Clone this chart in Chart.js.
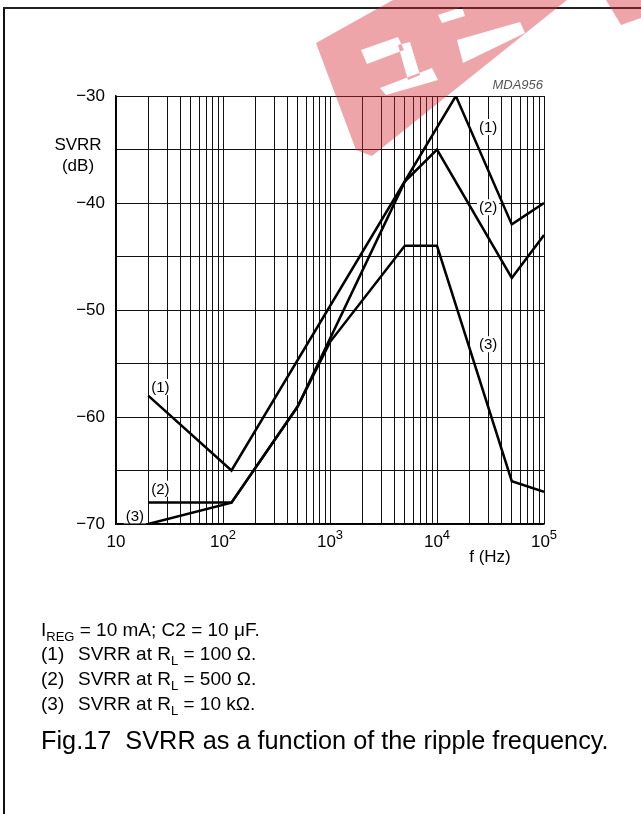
<!DOCTYPE html>
<html>
<head>
<meta charset="utf-8">
<title>Fig.17 SVRR as a function of the ripple frequency</title>
<script src="https://cdn.jsdelivr.net/npm/chart.js@4.4.0/dist/chart.umd.min.js"></script>
<style>
  body { margin: 0; background: #fff; font-family: "Liberation Sans", Arial, sans-serif; }
  #page { position: relative; width: 641px; height: 814px; overflow: hidden; background: #fff; }
  #frame-left { position: absolute; left: 3px; top: 7px; width: 2px; height: 807px; background: #111; }
  #frame-top { position: absolute; left: 3px; top: 7px; width: 638px; height: 2px; background: #222; }
  #chart { position: absolute; left: 0; top: 0; }
  .note { position: absolute; left: 41px; font-size: 19px; line-height: 19px; color: #000; white-space: nowrap; }
  .note sub { font-size: 13px; line-height: 0; vertical-align: -5px; }
  .note .num { display: inline-block; width: 37px; }
  .caption { position: absolute; left: 41px; font-size: 25.3px; line-height: 25px; color: #000; white-space: nowrap; }
</style>
</head>
<body>
<div id="page">
  <div id="frame-left"></div>
  <div id="frame-top"></div>
  <canvas id="chart" width="641" height="814"></canvas>
  <div class="note" style="top:620px">I<sub>REG</sub> = 10 mA; C2 = 10 &mu;F.</div>
  <div class="note" style="top:644px"><span class="num">(1)</span>SVRR at R<sub>L</sub> = 100 &Omega;.</div>
  <div class="note" style="top:669px"><span class="num">(2)</span>SVRR at R<sub>L</sub> = 500 &Omega;.</div>
  <div class="note" style="top:694px"><span class="num">(3)</span>SVRR at R<sub>L</sub> = 10 k&Omega;.</div>
  <div class="caption" style="top:728px">Fig.17&nbsp;&nbsp;SVRR as a function of the ripple frequency.</div>
</div>
<script>
var FONT = '"Liberation Sans", Arial, sans-serif';

// curve (1) RL = 100 ohm
var freq1 = [20, 120, 15000, 50000, 100000];
var svrr1 = [-58, -65, -30, -42, -40];
// curve (2) RL = 500 ohm
var freq2 = [20, 120, 500, 5000, 10000, 50000, 100000];
var svrr2 = [-68, -68, -59, -38, -35, -47, -43];
// curve (3) RL = 10 kohm
var freq3 = [20, 120, 500, 1000, 5000, 10000, 50000, 100000];
var svrr3 = [-70, -68, -59, -53, -44, -44, -66, -67];

// axis labels
var xDecades = [10, 100, 1000, 10000, 100000];
var xExponents = ['', '2', '3', '4', '5'];
var yMin = -70, yMax = -30, yStep = 5;

// curve tags, in data units (f, dB)
var tagText = ['(1)', '(2)', '(3)', '(1)', '(2)', '(3)'];
var tagFreq = [26, 26, 15, 30000, 30000, 30000];
var tagDb = [-57.2, -66.7, -69.2, -32.9, -40.4, -53.2];

function toPoints(fs, vs) {
	return fs.map(function(f, i) { return {x: f, y: vs[i]}; });
}

// all log grid positions 1..9 x 10^n
function logGrid() {
	var out = [];
	for (var d = 0; d < xDecades.length - 1; d++) {
		for (var m = 1; m < 10; m++) out.push(m * xDecades[d]);
	}
	out.push(xDecades[xDecades.length - 1]);
	return out;
}

function poly(ctx, pts) {
	ctx.moveTo(pts[0], pts[1]);
	for (var i = 2; i < pts.length; i += 2) ctx.lineTo(pts[i], pts[i + 1]);
	ctx.closePath();
}

var decorations = {
	id: 'decorations',
	afterDatasetsDraw: function(chart) {
		var ctx = chart.ctx, xs = chart.scales.x, ys = chart.scales.y, area = chart.chartArea;
		ctx.save();
		ctx.fillStyle = '#000';
		ctx.textBaseline = 'alphabetic';

		// decade labels with superscripts
		xDecades.forEach(function(v, i) {
			var px = xs.getPixelForValue(v);
			ctx.font = '17px ' + FONT;
			var bw = ctx.measureText('10').width;
			ctx.font = '13px ' + FONT;
			var sw = xExponents[i] ? ctx.measureText(xExponents[i]).width : 0;
			var left = px - (bw + sw) / 2;
			ctx.textAlign = 'left';
			ctx.font = '17px ' + FONT;
			ctx.fillText('10', left, area.bottom + 23);
			if (xExponents[i]) {
				ctx.font = '13px ' + FONT;
				ctx.fillText(xExponents[i], left + bw, area.bottom + 15);
			}
		});

		// axis titles
		ctx.font = '17px ' + FONT;
		ctx.textAlign = 'center';
		ctx.fillText('f (Hz)', area.right - 54, area.bottom + 38);
		ctx.fillText('SVRR', area.left - 38, area.top + 54);
		ctx.fillText('(dB)', area.left - 38, area.top + 75);

		// drawing code
		ctx.font = 'italic 13px ' + FONT;
		ctx.textAlign = 'right';
		ctx.fillStyle = '#555';
		ctx.fillText('MDA956', area.right - 1, area.top - 7);

		// curve tags
		ctx.font = '15px ' + FONT;
		ctx.textAlign = 'center';
		ctx.textBaseline = 'middle';
		tagText.forEach(function(t, i) {
			var px = xs.getPixelForValue(tagFreq[i]);
			var py = ys.getPixelForValue(tagDb[i]);
			var w = ctx.measureText(t).width;
			ctx.fillStyle = '#fff';
			ctx.fillRect(px - w / 2 - 2, py - 8, w + 4, 16);
			ctx.fillStyle = '#000';
			ctx.fillText(t, px, py + 1);
		});
		ctx.restore();
	},
	afterDraw: function(chart) {
		// faded red watermark in the top right corner
		var ctx = chart.ctx;
		ctx.save();
		ctx.fillStyle = 'rgba(214, 40, 52, 0.42)';
		ctx.beginPath();
		poly(ctx, [316, 43, 393, 0, 567, 0, 372, 156, 356, 150]);
		// letter holes
		poly(ctx, [361, 50, 398, 37, 404, 50, 367, 64]);
		poly(ctx, [398, 45, 410, 42, 420, 75, 408, 80]);
		poly(ctx, [380, 88, 432, 68, 438, 80, 386, 95]);
		poly(ctx, [457, 40, 520, 22, 525, 33, 463, 63]);
		poly(ctx, [438, 15, 462, 7, 465, 16, 442, 23]);
		ctx.fill('evenodd');
		ctx.beginPath();
		poly(ctx, [606, 0, 641, 0, 641, 18, 621, 25]);
		ctx.fill();
		ctx.restore();
	}
};

function lineSet(label, fs, vs) {
	return {
		label: label,
		data: toPoints(fs, vs),
		borderColor: '#000',
		borderWidth: 2.5,
		pointRadius: 0,
		fill: false,
		tension: 0
	};
}

var ctx = document.getElementById('chart').getContext('2d');
var chart = new Chart(ctx, {
	type: 'line',
	data: {
		datasets: [
			lineSet('RL = 100 Ω', freq1, svrr1),
			lineSet('RL = 500 Ω', freq2, svrr2),
			lineSet('RL = 10 kΩ', freq3, svrr3)
		]
	},
	options: {
		responsive: false,
		animation: false,
		devicePixelRatio: 1,
		layout: { padding: { left: 0, top: 96, right: 97, bottom: 270 } },
		plugins: { legend: { display: false }, tooltip: { enabled: false } },
		scales: {
			x: {
				type: 'logarithmic',
				min: xDecades[0],
				max: xDecades[xDecades.length - 1],
				afterBuildTicks: function(scale) {
					scale.ticks = logGrid().map(function(v) { return {value: v}; });
				},
				afterFit: function(scale) { scale.height = 20; },
				ticks: { display: false },
				grid: { color: '#111', lineWidth: 1, drawTicks: false },
				border: { color: '#000', width: 1.5 }
			},
			y: {
				type: 'linear',
				min: yMin,
				max: yMax,
				afterFit: function(scale) { scale.width = 116; },
				ticks: {
					stepSize: yStep,
					padding: 11,
					color: '#000',
					font: { family: FONT, size: 17 },
					callback: function(v) { return v % 10 === 0 ? '\u2212' + Math.abs(v) : ''; }
				},
				grid: { color: '#111', lineWidth: 1, drawTicks: false },
				border: { color: '#000', width: 1.5 }
			}
		}
	},
	plugins: [decorations]
});
</script>
</body>
</html>
